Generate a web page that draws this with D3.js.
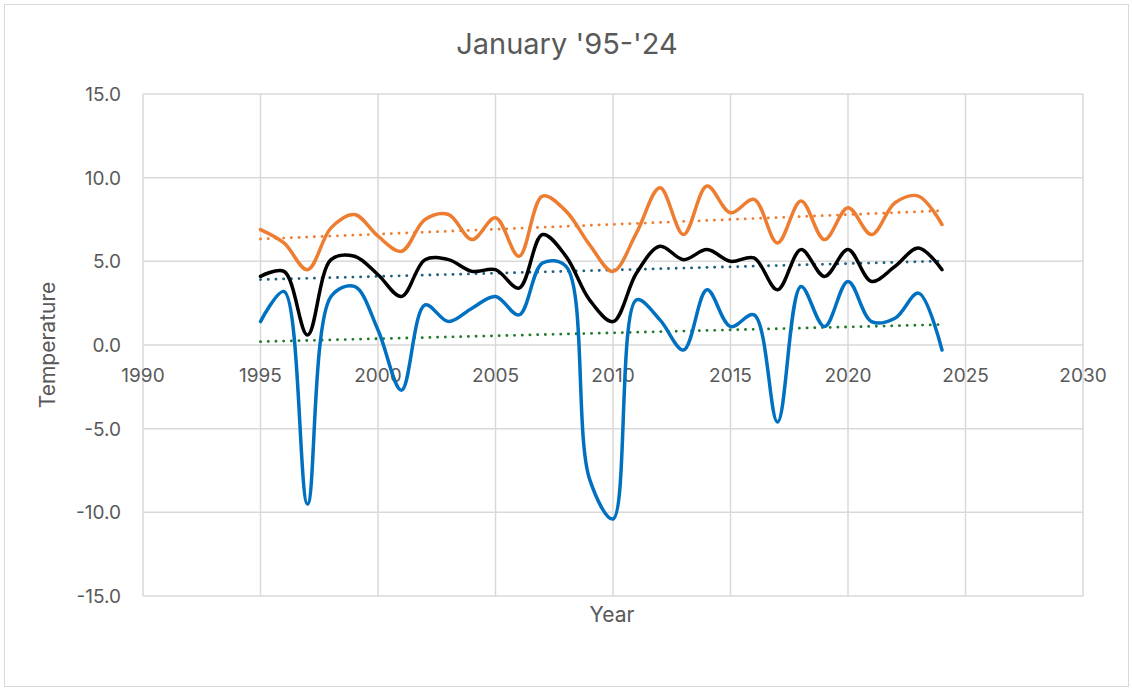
<!DOCTYPE html>
<html>
<head>
  <meta charset="utf-8">
  <script src="https://d3js.org/d3.v7.min.js"></script>
  <style>
    body { margin: 0; background: #fff; }
    text { font-family: Inter, "Open Sans", sans-serif; fill: #595959; }
  </style>
</head>
<body>
<svg id="chart" width="1133" height="691"></svg>
<script>
  // January temperatures, 1995-2024
  const years = d3.range(1995, 2025);
  const maxTemp = [6.9, 6.1, 4.5, 7.0, 7.8, 6.5, 5.6, 7.5, 7.8, 6.3, 7.6,
             5.3, 8.9, 8.0, 6.0, 4.4, 6.7, 9.4, 6.6, 9.5, 7.9,
             8.7, 6.1, 8.6, 6.3, 8.2, 6.6, 8.5, 8.9, 7.2];
  const meanTemp = [4.1, 4.4, 0.6, 5.1, 5.3, 4.2, 2.9, 5.1, 5.1, 4.4, 4.5,
              3.4, 6.6, 5.3, 2.7, 1.4, 4.3, 5.9, 5.1, 5.7, 5.0,
              5.2, 3.3, 5.7, 4.1, 5.7, 3.8, 4.7, 5.8, 4.5];
  const minTemp = [1.4, 3.2, -9.5, 2.9, 3.5, 0.9, -2.7, 2.4, 1.4, 2.2, 2.9,
             1.8, 4.9, 4.7, -8.0, -10.4, 2.7, 1.5, -0.3, 3.3, 1.1,
             1.8, -4.6, 3.5, 1.1, 3.8, 1.4, 1.6, 3.1, -0.3];
  const xTicks = d3.range(1990, 2031, 5);
  const yTicks = [-15, -10, -5, 0, 5, 10, 15];

  const width = 1133;
  const height = 691;
  const plotL = 143, plotR = 1083, plotT = 94, plotB = 596;

  const svg = d3.select('#chart');

  svg.append('rect')
    .attr('x', 4.5).attr('y', 4.5)
    .attr('width', width - 9).attr('height', height - 9)
    .attr('fill', 'white')
    .attr('stroke', '#d9d9d9')
    .attr('stroke-width', 1);

  const x = d3.scaleLinear().domain([1990, 2030]).range([plotL, plotR]);
  const y = d3.scaleLinear().domain([-15, 15]).range([plotB, plotT]);

  // grid
  svg.append('g').selectAll('line')
    .data(yTicks).enter().append('line')
    .attr('x1', plotL).attr('x2', plotR)
    .attr('y1', d => y(d)).attr('y2', d => y(d))
    .attr('stroke', '#d9d9d9').attr('stroke-width', 1.5);
  svg.append('g').selectAll('line')
    .data(xTicks).enter().append('line')
    .attr('y1', plotT).attr('y2', plotB)
    .attr('x1', d => x(d)).attr('x2', d => x(d))
    .attr('stroke', '#d9d9d9').attr('stroke-width', 1.5);

  // tick labels
  svg.append('g').selectAll('text')
    .data(yTicks).enter().append('text')
    .attr('x', plotL - 22)
    .attr('y', d => y(d) + 7)
    .attr('text-anchor', 'end')
    .style('font-size', '19px')
    .text(d => d.toFixed(1));
  svg.append('g').selectAll('text')
    .data(xTicks).enter().append('text')
    .attr('x', d => x(d))
    .attr('y', y(0) + 37)
    .attr('text-anchor', 'middle')
    .style('font-size', '19px')
    .text(d => d);

  // trendlines (least squares, like Excel's linear trendline)
  function trend(vals) {
    const xm = d3.mean(years);
    const ym = d3.mean(vals);
    const num = d3.sum(years, (yr, i) => (yr - xm) * (vals[i] - ym));
    const den = d3.sum(years, yr => (yr - xm) * (yr - xm));
    const slope = num / den;
    return years.map(yr => ym + slope * (yr - xm));
  }

  const series = [
    { vals: maxTemp, color: '#ED7D31', trendColor: '#ED7D31' },
    { vals: meanTemp, color: '#000000', trendColor: '#1F5F7E' },
    { vals: minTemp, color: '#0070C0', trendColor: '#217A2B' }
  ];

  const trendLine = d3.line()
    .x((d, i) => x(years[i]))
    .y(d => y(d));

  series.forEach(function(s) {
    svg.append('path')
      .datum(trend(s.vals))
      .attr('d', trendLine)
      .attr('fill', 'none')
      .attr('stroke', s.trendColor)
      .attr('stroke-width', 2.8)
      .attr('stroke-linecap', 'round')
      .attr('stroke-dasharray', '0.1 7.6');
  });

  const smooth = d3.line()
    .x((d, i) => x(years[i]))
    .y(d => y(d))
    .curve(d3.curveCatmullRom.alpha(0.5));

  [series[0], series[2], series[1]].forEach(function(s) {
    svg.append('path')
      .datum(s.vals)
      .attr('d', smooth)
      .attr('fill', 'none')
      .attr('stroke', s.color)
      .attr('stroke-width', 3.5)
      .attr('stroke-linejoin', 'round')
      .attr('stroke-linecap', 'round');
  });

  // titles
  svg.append('text')
    .attr('x', 567).attr('y', 54)
    .attr('text-anchor', 'middle')
    .style('font-size', '29px')
    .text("January '95-'24");
  svg.append('text')
    .attr('x', 612).attr('y', 622)
    .attr('text-anchor', 'middle')
    .style('font-size', '21px')
    .text('Year');
  svg.append('text')
    .attr('transform', 'translate(55,' + y(0) + ') rotate(-90)')
    .attr('text-anchor', 'middle')
    .style('font-size', '21px')
    .text('Temperature');
</script>
</body>
</html>
